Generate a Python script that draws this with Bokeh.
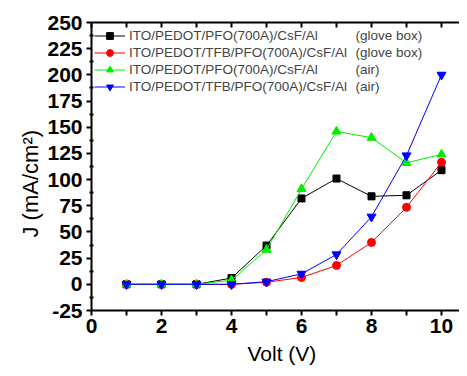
from bokeh.plotting import figure
from bokeh.models import (Range1d, FixedTicker, LinearAxis, Legend, LegendItem, Label, Title,
                          PrintfTickFormatter)
from bokeh.embed import file_html
from bokeh.resources import INLINE

volts = [1, 2, 3, 4, 5, 6, 7, 8, 9, 10]
pfo_glove = [0, 0, 0, 6, 37, 82, 101, 84, 85, 109]
tfb_glove = [0, 0, 0, 0, 2, 6.5, 18, 40, 73.5, 116.5]
pfo_air = [0, 0, 0, 4, 33, 91, 146, 140, 116, 124]
tfb_air = [0, 0, 0, 0, 2.5, 10, 28.5, 64.5, 123, 200]

series_labels = ["ITO/PEDOT/PFO(700A)/CsF/Al", "ITO/PEDOT/TFB/PFO(700A)/CsF/Al",
                 "ITO/PEDOT/PFO(700A)/CsF/Al", "ITO/PEDOT/TFB/PFO(700A)/CsF/Al"]
series_env = ["(glove box)", "(glove box)", "(air)", "(air)"]
x_ticks = [0, 2, 4, 6, 8, 10]
x_minor = [1, 3, 5, 7, 9]
y_ticks = [-25, 0, 25, 50, 75, 100, 125, 150, 175, 200, 225, 250]
y_minor = [-12.5, 12.5, 37.5, 62.5, 87.5, 112.5, 137.5, 162.5, 187.5, 212.5, 237.5]
x_title = "Volt (V)"
y_title = "J (mA/cm²)"

FONT = "Liberation Sans"

p = figure(width=459, height=368, output_backend="svg", toolbar_location=None,
           x_range=Range1d(0, 10.514), y_range=Range1d(-25, 250),
           min_border_left=91, min_border_right=0, min_border_top=22, min_border_bottom=58)
p.xgrid.visible = False
p.ygrid.visible = False
p.outline_line_color = None

xa = p.xaxis[0]
xa.ticker = FixedTicker(ticks=x_ticks, minor_ticks=x_minor)
ya = p.yaxis[0]
ya.ticker = FixedTicker(ticks=y_ticks, minor_ticks=y_minor)
ya.formatter = PrintfTickFormatter(format="%d")

for ax in (xa, ya):
    ax.axis_line_width = 2
    ax.major_tick_line_width = 2
    ax.minor_tick_line_width = 2
    ax.major_tick_in = 0
    ax.minor_tick_in = 0
    ax.major_label_text_font = FONT
    ax.major_label_text_font_style = "bold"
    ax.major_label_text_font_size = "21px"
    ax.major_label_text_color = "black"

xa.major_tick_out = 5
xa.minor_tick_out = 5
xa.major_label_standoff = 3
ya.major_tick_out = 5
ya.minor_tick_out = 2
ya.minor_tick_in = 2
ya.major_label_standoff = 4

top = LinearAxis(ticker=FixedTicker(ticks=x_ticks, minor_ticks=x_minor),
                 major_label_text_font_size="0px", major_label_standoff=0,
                 axis_line_width=2, major_tick_line_width=2, minor_tick_line_width=2,
                 major_tick_in=5, major_tick_out=0, minor_tick_in=5, minor_tick_out=0)
p.add_layout(top, "above")

p.add_layout(Title(text=y_title, align="left", offset=73, standoff=4,
                   text_font=FONT, text_font_size="22px", text_font_style="normal",
                   text_color="black"), "left")
p.add_layout(Title(text=x_title, align="left", offset=156, standoff=8,
                   text_font=FONT, text_font_size="21px", text_font_style="normal",
                   text_color="black"), "below")

colors = ["black", "#ff0000", "#00ee00", "#0000ff"]
markers = ["square", "circle", "triangle", "inverted_triangle"]
sizes = [7, 8, 9, 9]
data = [pfo_glove, tfb_glove, pfo_air, tfb_air]
items = []
for ys, c, m, s, lab in zip(data, colors, markers, sizes, series_labels):
    ln = p.line(volts, ys, line_color=c, line_width=1)
    small = p.scatter(volts, ys, marker=m, size=6, fill_color=c, line_color=c)
    p.scatter(volts, ys, marker=m, size=s, fill_color=c, line_color=c)
    items.append(LegendItem(label=lab, renderers=[ln, small]))

leg = Legend(items=items, location=(3, 215.5), margin=0, padding=0, spacing=0,
             label_height=17, glyph_height=17, glyph_width=31, label_standoff=4,
             label_text_font=FONT, label_text_font_size="13.5px",
             background_fill_alpha=0, border_line_alpha=0)
p.add_layout(leg)

for i, env in enumerate(series_env):
    p.add_layout(Label(x=264, y=275 - 17 * i, x_units="screen", y_units="screen",
                       text=env, text_font=FONT, text_font_size="13.5px",
                       text_baseline="middle", text_align="left"))

open("out.html", "w").write(file_html(p, INLINE))
